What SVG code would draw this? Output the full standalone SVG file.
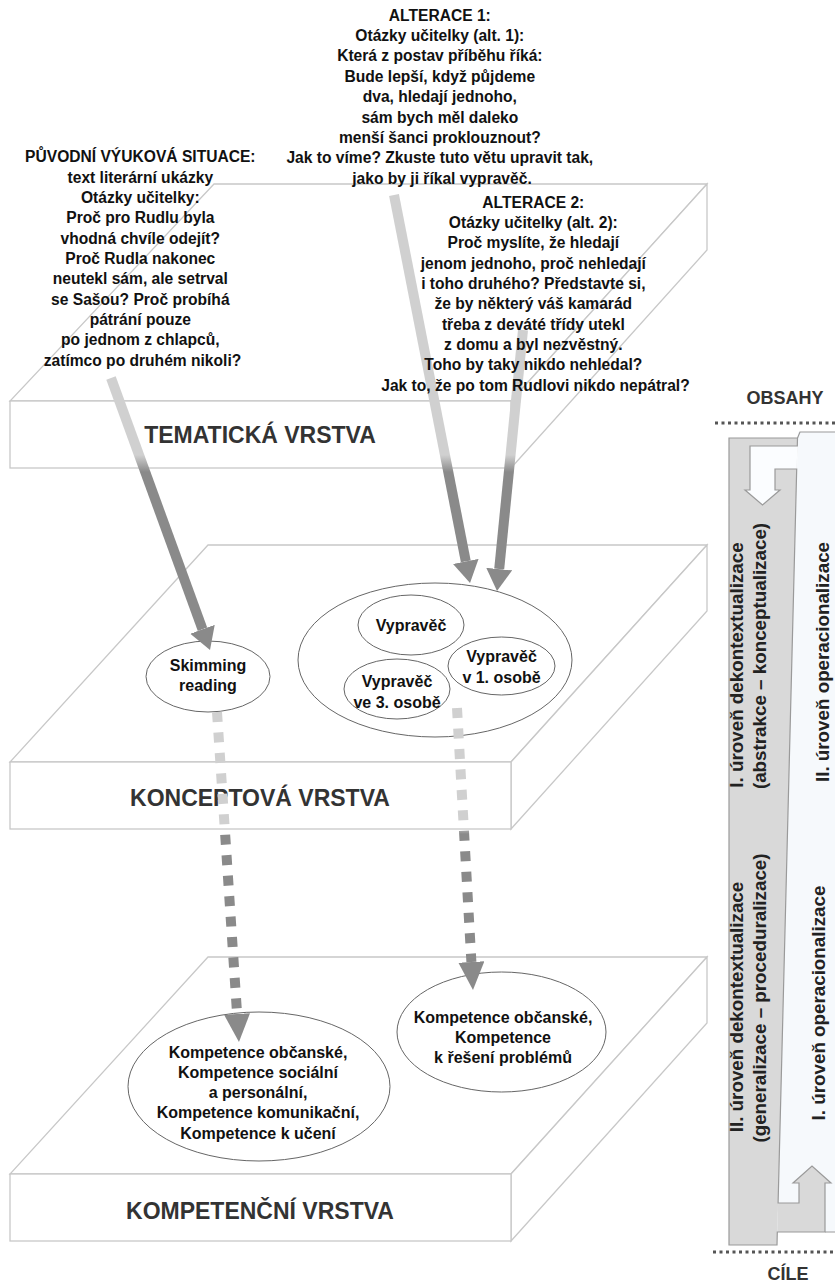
<svg xmlns="http://www.w3.org/2000/svg" width="835" height="1283" viewBox="0 0 835 1283">
<style>
.slab{fill:#fff;stroke:#c8c8c8;stroke-width:1.3}
.lbl{font-family:"Liberation Sans",Arial,sans-serif;font-weight:bold;font-size:23px;fill:#333;text-anchor:middle}
.txt{font-family:"Liberation Sans",Arial,sans-serif;font-weight:bold;font-size:15.6px;fill:#111;text-anchor:middle}
.etx{font-family:"Liberation Sans",Arial,sans-serif;font-weight:bold;font-size:16px;fill:#111;text-anchor:middle}
.ell{fill:#fff;stroke:#666;stroke-width:1}
.rot{font-family:"Liberation Sans",Arial,sans-serif;font-weight:bold;font-size:18.8px;fill:#222;text-anchor:middle}
.side{font-family:"Liberation Sans",Arial,sans-serif;font-weight:bold;font-size:18px;fill:#333;text-anchor:middle}
.dots{stroke:#555;stroke-width:3;stroke-dasharray:3 3.5;fill:none}
.bandline{fill:none;stroke:#9a9a9a;stroke-width:1.2}
</style>
<defs>
<linearGradient id="g1" gradientUnits="userSpaceOnUse" x1="0" y1="455" x2="0" y2="472">
<stop offset="0" stop-color="#d0d0d0"/><stop offset="1" stop-color="#8a8a8a"/>
</linearGradient>
<linearGradient id="g2" gradientUnits="userSpaceOnUse" x1="0" y1="826" x2="0" y2="834">
<stop offset="0" stop-color="#d0d0d0"/><stop offset="1" stop-color="#8a8a8a"/>
</linearGradient>
<marker id="ah" markerUnits="userSpaceOnUse" markerWidth="24" markerHeight="28" refX="0" refY="13" orient="auto" viewBox="0 0 24 28">
<path d="M0,0 L22,13 L0,26 z" transform="translate(0,0)" fill="#8a8a8a"/>
</marker>
<marker id="ah2" markerUnits="userSpaceOnUse" markerWidth="30" markerHeight="28" refX="0" refY="13" orient="auto" viewBox="0 0 30 28">
<path d="M0,0 L28,13 L0,26 z" fill="#8a8a8a"/>
</marker>
</defs>

<g id="layer-tematicka">
<polygon class="slab" points="10,401 511,401 707,184 214,184"/>
<polygon class="slab" points="511,401 707,184 707,250 511,468"/>
<rect class="slab" x="10" y="401" width="501" height="67"/>
<text class="lbl" x="260" y="443">TEMATICKÁ VRSTVA</text>
</g>

<g id="layer-konceptova">
<polygon class="slab" points="10,762 511,762 707,545 208,545"/>
<polygon class="slab" points="511,762 707,545 707,611 511,829"/>
<rect class="slab" x="10" y="762" width="501" height="67"/>
<text class="lbl" x="260" y="806">KONCEPTOVÁ VRSTVA</text>
</g>

<g id="layer-kompetencni">
<polygon class="slab" points="10,1174 511,1174 707,957 208,957"/>
<polygon class="slab" points="511,1174 707,957 707,1023 511,1241"/>
<rect class="slab" x="10" y="1174" width="501" height="67"/>
<text class="lbl" x="260" y="1219">KOMPETENČNÍ VRSTVA</text>
</g>

<g id="node-skimming">
<ellipse class="ell" cx="208" cy="676.5" rx="62" ry="35.5"/>
<text class="etx"><tspan x="208" y="670.5">Skimming</tspan><tspan x="208" y="690.5">reading</tspan></text>
</g>

<g id="node-vypravec-group">
<ellipse class="ell" cx="435" cy="660" rx="137" ry="77"/>
</g>
<g id="node-vypravec">
<ellipse class="ell" cx="411" cy="625" rx="53" ry="30"/>
<text class="etx" x="411" y="630.5">Vypravěč</text>
</g>
<g id="node-vypravec-1">
<ellipse class="ell" cx="501.5" cy="666" rx="53.5" ry="29"/>
<text class="etx"><tspan x="501.5" y="661.5">Vypravěč</tspan><tspan x="501.5" y="682.5">v 1. osobě</tspan></text>
</g>
<g id="node-vypravec-3">
<ellipse class="ell" cx="397" cy="689" rx="53" ry="30"/>
<text class="etx"><tspan x="397" y="686.5">Vypravěč</tspan><tspan x="397" y="707.5">ve 3. osobě</tspan></text>
</g>

<g id="node-kompetence-left">
<ellipse class="ell" cx="259" cy="1086.5" rx="131" ry="74.5"/>
<text class="etx"><tspan x="258" y="1057.5">Kompetence občanské,</tspan><tspan x="258" y="1077.8">Kompetence sociální</tspan><tspan x="258" y="1098.1">a personální,</tspan><tspan x="258" y="1118.4">Kompetence komunikační,</tspan><tspan x="258" y="1138.7">Kompetence k učení</tspan></text>
</g>

<g id="node-kompetence-right">
<ellipse class="ell" cx="501.5" cy="1032" rx="104.5" ry="60"/>
<text class="etx"><tspan x="503" y="1022.5">Kompetence občanské,</tspan><tspan x="503" y="1042.5">Kompetence</tspan><tspan x="503" y="1062.5">k řešení problémů</tspan></text>
</g>

<g id="connectors">
<line x1="111" y1="378" x2="202.5" y2="629.3" stroke="url(#g1)" stroke-width="10" marker-end="url(#ah)"/>
<line x1="394" y1="195" x2="465.8" y2="561.4" stroke="url(#g1)" stroke-width="10" marker-end="url(#ah)"/>
<line x1="523" y1="330" x2="499.2" y2="569.1" stroke="url(#g1)" stroke-width="10" marker-end="url(#ah)"/>
<line x1="217" y1="712" x2="237.1" y2="1014" stroke="url(#g2)" stroke-width="10" stroke-dasharray="10 10.5" marker-end="url(#ah2)"/>
<line x1="457" y1="708" x2="471.4" y2="962" stroke="url(#g2)" stroke-width="10" stroke-dasharray="10 10.5" marker-end="url(#ah2)"/>
</g>

<g id="text-puvodni">
<text class="txt">
<tspan x="142.5" y="162.3">PŮVODNÍ VÝUKOVÁ SITUACE:</tspan>
<tspan x="142.5" y="182.6">text literární ukázky</tspan>
<tspan x="142.5" y="203">Otázky učitelky:</tspan>
<tspan x="142.5" y="223.3">Proč pro Rudlu byla</tspan>
<tspan x="142.5" y="243.6">vhodná chvíle odejít?</tspan>
<tspan x="142.5" y="264">Proč Rudla nakonec</tspan>
<tspan x="142.5" y="284.3">neutekl sám, ale setrval</tspan>
<tspan x="142.5" y="304.6">se Sašou? Proč probíhá</tspan>
<tspan x="142.5" y="324.9">pátrání pouze</tspan>
<tspan x="142.5" y="345.3">po jednom z chlapců,</tspan>
<tspan x="142.5" y="365.6">zatímco po druhém nikoli?</tspan>
</text>
</g>

<g id="text-alterace1">
<text class="txt">
<tspan x="442" y="20.6">ALTERACE 1:</tspan>
<tspan x="442" y="41">Otázky učitelky (alt. 1):</tspan>
<tspan x="442" y="61.4">Která z postav příběhu říká:</tspan>
<tspan x="442" y="81.8">Bude lepší, když půjdeme</tspan>
<tspan x="442" y="102.2">dva, hledají jednoho,</tspan>
<tspan x="442" y="122.6">sám bych měl daleko</tspan>
<tspan x="442" y="143">menší šanci proklouznout?</tspan>
<tspan x="442" y="163.4">Jak to víme? Zkuste tuto větu upravit tak,</tspan>
<tspan x="442" y="183.8">jako by ji říkal vypravěč.</tspan>
</text>
</g>

<g id="text-alterace2">
<text class="txt">
<tspan x="535.5" y="207.6">ALTERACE 2:</tspan>
<tspan x="535.5" y="227.9">Otázky učitelky (alt. 2):</tspan>
<tspan x="535.5" y="248.3">Proč myslíte, že hledají</tspan>
<tspan x="535.5" y="268.6">jenom jednoho, proč nehledají</tspan>
<tspan x="535.5" y="288.9">i toho druhého? Představte si,</tspan>
<tspan x="535.5" y="309.3">že by některý váš kamarád</tspan>
<tspan x="535.5" y="329.6">třeba z deváté třídy utekl</tspan>
<tspan x="535.5" y="349.9">z domu a byl nezvěstný.</tspan>
<tspan x="535.5" y="370.2">Toho by taky nikdo nehledal?</tspan>
<tspan x="535.5" y="390.6">Jak to, že po tom Rudlovi nikdo nepátral?</tspan>
</text>
</g>

<g id="side-scale">
<text class="side" x="785" y="403.5">OBSAHY</text>
<line class="dots" x1="715" y1="423" x2="835" y2="423"/>
<polygon points="798,432 835,432 835,1232 777.3,1232" fill="#f6f9fc"/>
<polygon points="729,438 797.5,438 777,1245 729,1245" fill="#d9d9d9"/>
<polygon points="797.3,446 750,446 750,490 745,490 762.5,505 780,490 775,490 775,469 796.7,469" fill="#fbfdff"/>
<polygon points="778.1,1203 799,1203 799,1183 793,1183 812,1166 831,1183 825,1183 825,1232 777.3,1232" fill="#d9d9d9"/>
<path class="bandline" d="M729,1245 V438 H797.5 L797.3,446 H750 V490 H745 L762.5,505 L780,490 H775 V469 H796.7 L778.1,1203 H799 V1183 H793 L812,1166 L831,1183 H825 V1232 H777.3 L777,1245 Z"/>
<path class="bandline" d="M797.5,438 L800,432 H835 M825,1232 H835"/>
<text class="rot" transform="translate(743,665) rotate(-90)">I. úroveň dekontextualizace</text>
<text class="rot" transform="translate(766,656) rotate(-90)">(abstrakce – konceptualizace)</text>
<text class="rot" transform="translate(829,662) rotate(-90)">II. úroveň operacionalizace</text>
<text class="rot" transform="translate(743,1007) rotate(-90)">II. úroveň dekontextualizace</text>
<text class="rot" transform="translate(766,998) rotate(-90)">(generalizace – proceduralizace)</text>
<text class="rot" transform="translate(825,1003) rotate(-90)">I. úroveň operacionalizace</text>
<line class="dots" x1="713" y1="1252" x2="835" y2="1252"/>
<text class="side" x="788" y="1280">CÍLE</text>
</g>
</svg>
